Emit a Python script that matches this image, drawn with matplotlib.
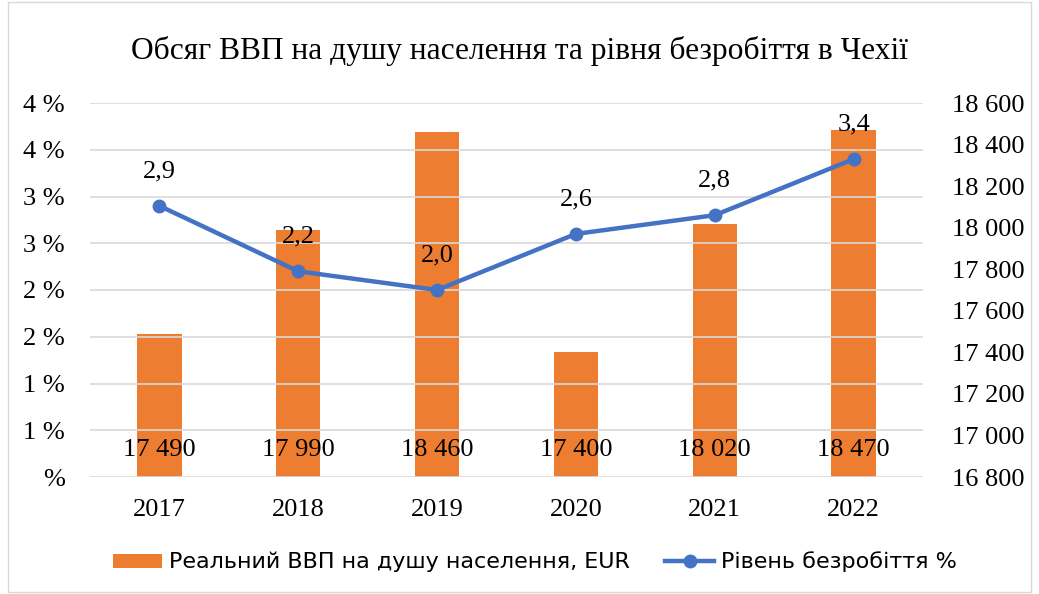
import matplotlib.pyplot as plt
from matplotlib.patches import Rectangle

years = ['2017', '2018', '2019', '2020', '2021', '2022']
gdp = [17490, 17990, 18460, 17400, 18020, 18470]
unemp = [2.9, 2.2, 2.0, 2.6, 2.8, 3.4]
gdp_label = 'Реальний ВВП на душу населення, EUR'
unemp_label = 'Рівень безробіття %'

bar_c = '#ED7D31'
line_c = '#4472C4'
serif = ['Liberation Serif', 'DejaVu Serif']
fs = 19

fig = plt.figure(figsize=(10.39, 5.94), dpi=100)
ax = fig.add_axes([90 / 1039, 1 - 477 / 594, 833 / 1039, 374 / 594])
ax2 = ax.twinx()

x = list(range(len(years)))

# bars on the right axis
ax2.bar(x, gdp, width=0.32, color=bar_c, zorder=2, label=gdp_label)
ax2.set_ylim(16800, 18600)
ax2.set_yticks(range(16800, 18601, 200))
ax2.set_yticklabels([f'{v:,}'.replace(',', ' ') for v in range(16800, 18601, 200)],
                    family=serif, fontsize=fs)
for xi, v in zip(x, gdp):
    ax2.text(xi, 16800 + 130, f'{v:,}'.replace(',', ' '), ha='center', va='center',
             family=serif, fontsize=fs, zorder=5)

# line on the left axis
ax.set_ylim(0, 4)
ticks = [i * 0.5 for i in range(9)]
ax.set_yticks(ticks)
tick_labels = []
for t in ticks:
    r = int(t + 0.5)
    tick_labels.append(f'{r} %' if r > 0 else '%')
ax.set_yticklabels(tick_labels, family=serif, fontsize=fs)
ax.grid(axis='y', color='#d9d9d9', linewidth=1.2)
ax.set_axisbelow(True)

ax.set_zorder(ax2.get_zorder() + 1)
ax.patch.set_visible(False)
ax.plot(x, unemp, color=line_c, linewidth=3.2, marker='o', markersize=9,
        zorder=4, label=unemp_label)
for xi, v in zip(x, unemp):
    ax.annotate(f'{v:.1f}'.replace('.', ','), (xi, v), xytext=(0, 25),
                textcoords='offset points', ha='center', va='center',
                family=serif, fontsize=fs)

ax.set_xlim(-0.5, len(years) - 0.5)
ax.set_xticks(x)
ax.set_xticklabels(years, family=serif, fontsize=fs)

for a in (ax, ax2):
    for s in a.spines.values():
        s.set_visible(False)
    a.tick_params(length=0)
ax.tick_params(axis='y', pad=18)
ax.tick_params(axis='x', pad=16)
ax2.tick_params(axis='y', pad=21)

fig.text(0.5, 1 - 51 / 594, 'Обсяг ВВП на душу населення та рівня безробіття в Чехії',
         ha='center', va='center', family=serif, fontsize=22.7)

h1, l1 = ax2.get_legend_handles_labels()
h2, l2 = ax.get_legend_handles_labels()
fig.legend(h1 + h2, l1 + l2, loc='center', bbox_to_anchor=(0.515, 1 - 562 / 594),
           ncol=2, frameon=False,
           prop={'family': 'DejaVu Sans', 'size': 16},
           handlelength=2.2, handleheight=0.6, columnspacing=1.6, handletextpad=0.3)

fig.patches.append(Rectangle((8 / 1039, 0.003), 1 - 16 / 1039, 0.994,
                             transform=fig.transFigure, fill=False,
                             edgecolor='#d9d9d9', linewidth=1))

fig.savefig('out.png', dpi=100)
